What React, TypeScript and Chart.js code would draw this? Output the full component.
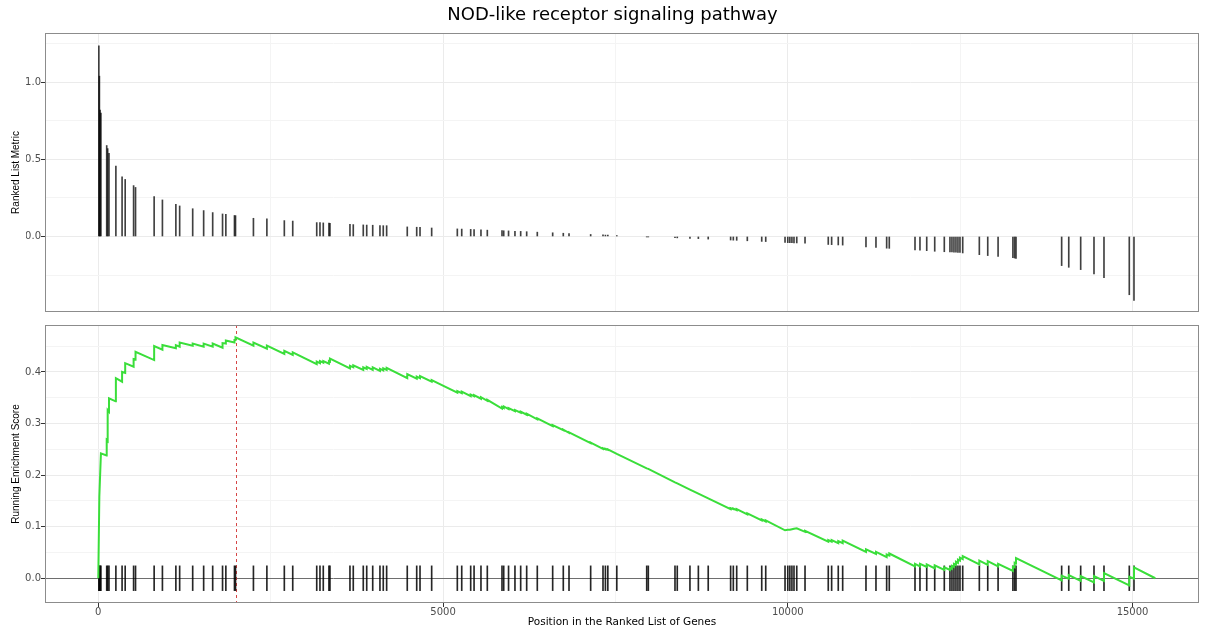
import React, { useEffect, useRef } from "react";
import { Chart, registerables } from "chart.js";

Chart.register(...registerables);

// ---------------- data ----------------
const chartTitle = "NOD-like receptor signaling pathway";
const xAxisTitle = "Position in the Ranked List of Genes";
const topYAxisTitle = "Ranked List Metric";
const bottomYAxisTitle = "Running Enrichment Score";

// positions of the pathway genes in the ranked list
const hitPositions = [
  8, 16, 26, 38,
  122, 136, 155, 255, 345, 390, 512, 540, 810, 930, 1125, 1180, 1369, 1528, 1659, 1802, 1850, 1975, 1990,
  2250, 2445, 2698, 2820, 3168, 3215, 3263, 3345, 3360,
  3650, 3698, 3843, 3893, 3980, 4085, 4133, 4182,
  4481, 4618, 4666, 4835,
  5207, 5271, 5401, 5450, 5550, 5642, 5855, 5880, 5950, 6043, 6126, 6213, 6367,
  6590, 6744, 6827, 7141, 7320, 7355, 7390, 7520,
  7954, 7977, 8364, 8397, 8581, 8703, 8846,
  9171, 9210, 9259, 9413, 9622, 9680,
  9960, 10000, 10030, 10060, 10090, 10130, 10250,
  10587, 10636, 10732, 10796,
  11134, 11279, 11434, 11472,
  11845, 11917, 12015, 12131, 12270,
  12352, 12381, 12410, 12439, 12468, 12497, 12537,
  12778, 12900, 13050, 13265, 13290, 13310,
  13972, 14075, 14248, 14441, 14586, 14953, 15021,
];

// ranked list metric of those genes
const rankedMetric = [
  1.237, 1.04, 0.82, 0.8,
  0.59, 0.57, 0.54, 0.456, 0.387, 0.37, 0.33, 0.318, 0.258, 0.237, 0.209, 0.198, 0.18, 0.168, 0.155, 0.146, 0.144, 0.136, 0.135,
  0.118, 0.114, 0.103, 0.1, 0.09, 0.09, 0.088, 0.087, 0.086,
  0.078, 0.077, 0.075, 0.074, 0.073, 0.071, 0.07, 0.07,
  0.062, 0.06, 0.059, 0.055,
  0.049, 0.048, 0.046, 0.045, 0.043, 0.041, 0.038, 0.037, 0.036, 0.034, 0.033, 0.031, 0.028,
  0.024, 0.021, 0.019, 0.013, 0.01, 0.009, 0.009, 0.006,
  -0.002, -0.002, -0.008, -0.009, -0.012, -0.014, -0.017,
  -0.023, -0.024, -0.025, -0.028, -0.032, -0.033,
  -0.039, -0.04, -0.04, -0.041, -0.042, -0.042, -0.043,
  -0.052, -0.053, -0.055, -0.056,
  -0.068, -0.071, -0.076, -0.077,
  -0.087, -0.089, -0.092, -0.096, -0.099,
  -0.101, -0.101, -0.102, -0.102, -0.103, -0.103, -0.107,
  -0.118, -0.124, -0.129, -0.138, -0.14, -0.142,
  -0.189, -0.2, -0.215, -0.243, -0.267, -0.378, -0.415,
];

// running enrichment score, vertices
const esPositions = [
  0, 15, 38, 120, 122, 136, 136, 155, 155, 252, 255, 345, 345, 390, 390, 512, 512, 540, 540, 810, 810,
  930, 930, 1125, 1125, 1180, 1180, 1369, 1369, 1528, 1528, 1659, 1659, 1802, 1802, 1850, 1850, 1975, 1975, 1990, 1990,
  2250, 2250, 2445, 2445, 2698, 2698, 2820, 2820, 3168, 3168, 3215, 3215, 3263, 3263, 3345, 3345, 3360, 3360,
  3650, 3650, 3698, 3698, 3843, 3843, 3893, 3893, 3980, 3980, 4085, 4085, 4133, 4133, 4182, 4182,
  4481, 4481, 4618, 4618, 4666, 4666, 4835, 4835,
  5207, 5207, 5271, 5271, 5401, 5401, 5450, 5450, 5550, 5550, 5642, 5642, 5855, 5855, 5880, 5880,
  5950, 5950, 6043, 6043, 6126, 6126, 6213, 6213, 6367, 6367,
  6590, 6590, 6744, 6744, 6827, 6827, 7141, 7141, 7320, 7320, 7355, 7355, 7390, 7390, 7520,
  7954, 7977, 8364, 8397, 8581, 8703, 8846,
  9171, 9171, 9210, 9210, 9259, 9259, 9413, 9413, 9622, 9622, 9680, 9680,
  9960, 10000, 10030, 10060, 10090, 10130, 10250, 10250,
  10587, 10587, 10636, 10636, 10732, 10732, 10796, 10796,
  11134, 11134, 11279, 11279, 11434, 11434, 11472, 11472,
  11845, 11845, 11917, 11917, 12015, 12015, 12131, 12131, 12270, 12270,
  12352, 12352, 12381, 12381, 12410, 12410, 12439, 12439, 12468, 12468, 12497, 12497, 12537, 12537,
  12778, 12778, 12900, 12900, 13050, 13050, 13265, 13265, 13290, 13290, 13310, 13310,
  13972, 13972, 14075, 14075, 14248, 14248, 14441, 14441, 14586, 14586, 14953, 14953, 15021, 15021, 15330,
];
const esValues = [
  0, 0.158, 0.242, 0.238, 0.268, 0.266, 0.326, 0.323, 0.349, 0.343, 0.388, 0.381, 0.4, 0.398, 0.417, 0.41, 0.425, 0.424, 0.439, 0.423, 0.45,
  0.443, 0.452, 0.446, 0.452, 0.449, 0.457, 0.451, 0.455, 0.449, 0.455, 0.449, 0.455, 0.447, 0.456, 0.455, 0.461, 0.457, 0.462, 0.462, 0.467,
  0.451, 0.457, 0.445, 0.451, 0.435, 0.441, 0.433, 0.438, 0.415, 0.42, 0.417, 0.421, 0.418, 0.421, 0.416, 0.421, 0.42, 0.426,
  0.407, 0.412, 0.409, 0.413, 0.404, 0.409, 0.406, 0.41, 0.404, 0.409, 0.402, 0.406, 0.403, 0.407, 0.404, 0.408,
  0.388, 0.396, 0.387, 0.391, 0.388, 0.392, 0.381, 0.384,
  0.36, 0.363, 0.359, 0.362, 0.353, 0.356, 0.353, 0.355, 0.348, 0.351, 0.344, 0.346, 0.329, 0.332, 0.33, 0.333,
  0.328, 0.33, 0.324, 0.326, 0.321, 0.323, 0.317, 0.319, 0.308, 0.31,
  0.295, 0.297, 0.287, 0.288, 0.282, 0.283, 0.262, 0.263, 0.251, 0.252, 0.25, 0.251, 0.249, 0.25, 0.241,
  0.213, 0.212, 0.186, 0.184, 0.172, 0.164, 0.155,
  0.134, 0.136, 0.134, 0.135, 0.132, 0.134, 0.124, 0.126, 0.112, 0.114, 0.11, 0.112,
  0.093, 0.094, 0.094, 0.095, 0.096, 0.097, 0.09, 0.092,
  0.071, 0.074, 0.071, 0.074, 0.068, 0.072, 0.068, 0.073,
  0.051, 0.056, 0.047, 0.051, 0.041, 0.046, 0.044, 0.048,
  0.023, 0.028, 0.023, 0.028, 0.022, 0.027, 0.019, 0.025, 0.016, 0.021,
  0.016, 0.02, 0.018, 0.024, 0.022, 0.028, 0.026, 0.032, 0.03, 0.036, 0.034, 0.04, 0.037, 0.043,
  0.027, 0.034, 0.026, 0.033, 0.023, 0.028, 0.014, 0.022, 0.021, 0.03, 0.029, 0.039,
  -0.004, 0.005, -0.001, 0.006, -0.005, 0.004, -0.008, 0.004, -0.005, 0.01, -0.014, 0.003, -0.001, 0.021, 0,
];

const peakPosition = 1990;
const hitTickHalfHeight = 0.024;
const xLimits = [-773, 15964];
const topYLimits = [-0.49, 1.32];
const bottomYLimits = [-0.048, 0.491];
const xGridValues = [0, 2500, 5000, 7500, 10000, 12500, 15000];
const xLabelStep = 5000;
const topYGridValues = [-0.25, 0, 0.25, 0.5, 0.75, 1.0, 1.25];
const topYLabelStep = 0.5;
const bottomYGridValues = [0, 0.05, 0.1, 0.15, 0.2, 0.25, 0.3, 0.35, 0.4, 0.45];
const bottomYLabelStep = 0.1;

// ---------------- styling helpers ----------------
const TEXT_FONT = "'DejaVu Sans', 'Liberation Sans', sans-serif";
const TITLE_FONT = "'Liberation Sans', Arial, sans-serif";

const isMajor = (v: number, step: number) => Math.abs(v / step - Math.round(v / step)) < 1e-6;

function xScale(showLabels: boolean, height: number) {
  return {
    type: "linear" as const,
    min: xLimits[0],
    max: xLimits[1],
    offset: false,
    afterBuildTicks: (s: any) => {
      s.ticks = xGridValues.map((v) => ({ value: v }));
    },
    afterFit: (s: any) => {
      s.height = height;
    },
    border: { display: false },
    grid: {
      offset: false,
      drawTicks: showLabels,
      tickLength: 4,
      lineWidth: 1,
      color: (ctx: any) => (isMajor(ctx.tick.value, xLabelStep) ? "#ebebeb" : "#f4f4f4"),
      tickColor: (ctx: any) => (isMajor(ctx.tick.value, xLabelStep) ? "#333333" : "rgba(0,0,0,0)"),
    },
    ticks: {
      display: showLabels,
      autoSkip: false,
      maxRotation: 0,
      padding: -1,
      color: "#4d4d4d",
      font: { family: TEXT_FONT, size: 10 },
      callback: (v: any) => (isMajor(Number(v), xLabelStep) ? String(Math.round(Number(v))) : ""),
    },
    title: {
      display: showLabels,
      text: xAxisTitle,
      color: "#000",
      font: { family: TEXT_FONT, size: 10.5 },
      padding: { top: 0, bottom: 0 },
    },
  };
}

function yScale(lim: number[], grid: number[], majorStep: number, text: string, width: number, titlePad: number, zeroDark: boolean) {
  return {
    type: "linear" as const,
    min: lim[0],
    max: lim[1],
    afterBuildTicks: (s: any) => {
      s.ticks = grid.map((v) => ({ value: v }));
    },
    afterFit: (s: any) => {
      s.width = width;
    },
    border: { display: false },
    grid: {
      drawTicks: true,
      tickLength: 4,
      lineWidth: 1,
      color: (ctx: any) => {
        const v = ctx.tick.value;
        if (zeroDark && Math.abs(v) < 1e-9) return "#6e6e6e";
        return isMajor(v, majorStep) ? "#ebebeb" : "#f4f4f4";
      },
      tickColor: (ctx: any) => (isMajor(ctx.tick.value, majorStep) ? "#333333" : "rgba(0,0,0,0)"),
    },
    ticks: {
      autoSkip: false,
      padding: 0,
      color: "#4d4d4d",
      font: { family: TEXT_FONT, size: 10 },
      callback: (v: any) => {
        const n = Number(v);
        if (!isMajor(n, majorStep)) return "";
        return Math.abs(n) < 1e-9 ? "0.0" : n.toFixed(1);
      },
    },
    title: {
      display: true,
      text,
      color: "#000",
      font: { family: TITLE_FONT, size: 10 },
      padding: { top: titlePad, bottom: 0 },
    },
  };
}

const panelBorder = {
  id: "panelBorder",
  afterDraw(chart: any) {
    const { ctx, chartArea: a } = chart;
    ctx.save();
    ctx.strokeStyle = "#8c8c8c";
    ctx.lineWidth = 1;
    ctx.strokeRect(Math.round(a.left) + 0.5, Math.round(a.top) + 0.5, Math.round(a.width) - 1, Math.round(a.height) - 1);
    ctx.restore();
  },
};

const peakLine = {
  id: "peakLine",
  beforeDatasetsDraw(chart: any) {
    const { ctx, chartArea: a, scales } = chart;
    const px = Math.round(scales.x.getPixelForValue(peakPosition)) + 0.5;
    ctx.save();
    ctx.strokeStyle = "rgb(214,70,70)";
    ctx.lineWidth = 1;
    ctx.setLineDash([3, 3]);
    ctx.beginPath();
    ctx.moveTo(px, a.top);
    ctx.lineTo(px, a.bottom);
    ctx.stroke();
    ctx.restore();
  },
};

export default function App() {
  const topRef = useRef<HTMLCanvasElement>(null);
  const botRef = useRef<HTMLCanvasElement>(null);

  useEffect(() => {
    const n = Math.min(hitPositions.length, rankedMetric.length);
    const metricBars = [];
    const hitTicks = [];
    for (let i = 0; i < n; i++) {
      metricBars.push({ x: hitPositions[i], y: rankedMetric[i] });
    }
    for (let i = 0; i < hitPositions.length; i++) {
      hitTicks.push({ x: hitPositions[i], y: [-hitTickHalfHeight, hitTickHalfHeight] });
    }
    const m = Math.min(esPositions.length, esValues.length);
    const esData = [];
    for (let i = 0; i < m; i++) esData.push({ x: esPositions[i], y: esValues[i] });

    const top = new Chart(topRef.current as HTMLCanvasElement, {
      type: "bar",
      data: {
        datasets: [
          {
            data: metricBars as any,
            backgroundColor: "rgba(0,0,0,0.75)",
            borderWidth: 0,
            barThickness: 1,
          },
        ],
      },
      options: {
        responsive: false,
        animation: false,
        devicePixelRatio: 1,
        layout: { padding: { left: 26, right: 10, top: 0, bottom: 0 } },
        plugins: {
          legend: { display: false },
          tooltip: { enabled: false },
          title: {
            display: true,
            text: chartTitle,
            color: "#000",
            font: { family: TEXT_FONT, size: 18, weight: "normal" },
            padding: { top: 5, bottom: 6.4 },
          },
        },
        scales: {
          x: xScale(false, 3) as any,
          y: yScale(topYLimits, topYGridValues, topYLabelStep, topYAxisTitle, 19, -16, false) as any,
        },
      },
      plugins: [panelBorder],
    });

    const bot = new Chart(botRef.current as HTMLCanvasElement, {
      type: "line",
      data: {
        datasets: [
          {
            type: "line",
            data: esData as any,
            borderColor: "rgb(58,222,58)",
            borderWidth: 2,
            pointRadius: 0,
            tension: 0,
            fill: false,
            order: 0,
          },
          {
            type: "bar",
            data: hitTicks as any,
            backgroundColor: "rgba(0,0,0,0.85)",
            borderWidth: 0,
            barThickness: 1,
            order: 1,
          } as any,
        ],
      },
      options: {
        responsive: false,
        animation: false,
        devicePixelRatio: 1,
        layout: { padding: { left: 0, right: 10, top: 7, bottom: 0 } },
        plugins: {
          legend: { display: false },
          tooltip: { enabled: false },
        },
        scales: {
          x: xScale(true, 26) as any,
          y: yScale(bottomYLimits, bottomYGridValues, bottomYLabelStep, bottomYAxisTitle, 45, 10, true) as any,
        },
      },
      plugins: [panelBorder, peakLine],
    });

    return () => {
      top.destroy();
      bot.destroy();
    };
  }, []);

  return (
    <div style={{ position: "absolute", left: 0, top: 0, width: 1209, height: 629, background: "#fff" }}>
      <canvas ref={topRef} width={1209} height={318} style={{ position: "absolute", left: 0, top: 0 }} />
      <canvas ref={botRef} width={1209} height={311} style={{ position: "absolute", left: 0, top: 318 }} />
    </div>
  );
}
